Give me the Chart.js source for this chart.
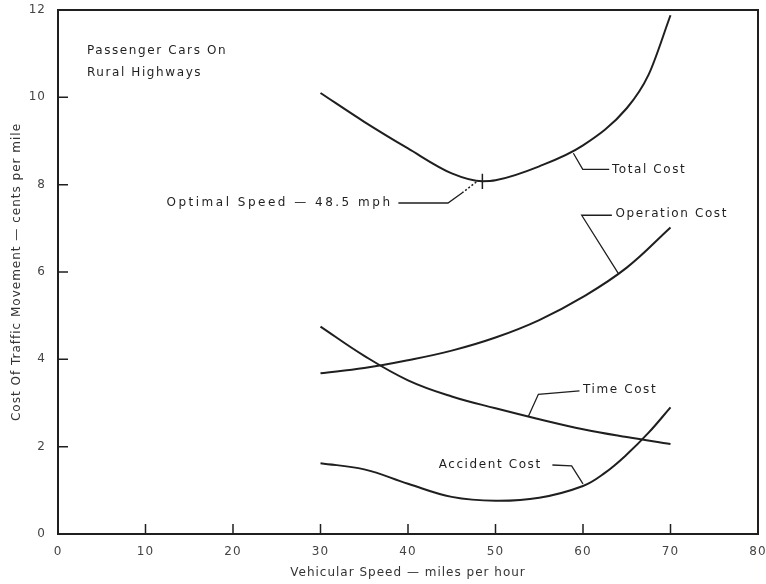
<!DOCTYPE html>
<html lang="en">
<head>
  <meta charset="UTF-8">
  <title>Cost of Traffic Movement</title>
  <script src="https://cdn.jsdelivr.net/npm/chart.js"></script>
  <style>
    html, body { margin: 0; padding: 0; background: #fff; }
    #wrap { width: 766px; height: 584px; }
  </style>
</head>
<body>

<div id="wrap"><canvas id="grafik"></canvas></div>

<script>
  // speeds (mph) and costs (cents per mile)
  const totalSpeed = [30, 35, 40, 45, 48.5, 50, 55, 60, 65, 67.5, 70];
  const totalCost = [10.1, 9.44, 8.83, 8.26, 8.08, 8.1, 8.42, 8.9, 9.75, 10.52, 11.88];

  const operSpeed = [30, 35, 40, 45, 50, 55, 60, 65, 70];
  const operCost = [3.68, 3.8, 3.98, 4.2, 4.5, 4.9, 5.43, 6.1, 7.02];

  const timeSpeed = [30, 35, 40, 45, 50, 55, 60, 65, 70];
  const timeCost = [4.75, 4.08, 3.52, 3.15, 2.88, 2.63, 2.4, 2.22, 2.06];

  const accSpeed = [30, 35, 40, 45, 50, 55, 60, 62.5, 65, 67.5, 70];
  const accCost = [1.62, 1.48, 1.15, 0.85, 0.76, 0.83, 1.1, 1.4, 1.82, 2.32, 2.9];

  const xTicks = [10, 20, 30, 40, 50, 60, 70];
  const yTicks = [2, 4, 6, 8, 10];
  const optimalSpeed = 48.5;

  const ink = '#1f1f1f';
  const fontName = '"DejaVu Sans", sans-serif';

  function punten(xs, ys) {
    return xs.map((v, i) => ({ x: v, y: ys[i] }));
  }

  function lijn(label, xs, ys, monotoon) {
    return {
      label: label,
      data: punten(xs, ys),
      borderColor: ink,
      borderWidth: 2,
      pointRadius: 0,
      tension: 0.4,
      cubicInterpolationMode: monotoon ? 'monotone' : 'default',
      fill: false
    };
  }

  // leader lines + labels, in data units
  const notities = [
    { tekst: 'Passenger Cars On', pos: [3.3, 11.06], lijn: [] },
    { tekst: 'Rural Highways', pos: [3.3, 10.56], lijn: [] },
    { tekst: 'Total Cost', pos: [63.3, 8.35], lijn: [[58.9, 8.72], [59.97, 8.35], [63.0, 8.35]] },
    { tekst: 'Operation Cost', pos: [63.7, 7.32], lijn: [[64.03, 5.97], [59.85, 7.3], [63.3, 7.3]] },
    { tekst: 'Time Cost', pos: [60.0, 3.31], lijn: [[53.75, 2.69], [54.9, 3.2], [59.6, 3.28]] },
    { tekst: 'Accident Cost', pos: [43.5, 1.58], lijn: [[56.5, 1.58], [58.7, 1.56], [60.0, 1.15]] },
    { tekst: 'Optimal Speed — 48.5 mph', pos: [12.4, 7.58], lijn: [[38.9, 7.58], [44.57, 7.58], [46.17, 7.81]], spacing: '2.5px' }
  ];

  const versiering = {
    id: 'versiering',
    beforeDraw(chart) {
      chart.ctx.letterSpacing = '1px';
    },
    afterDatasetsDraw(chart) {
      const ctx = chart.ctx;
      const a = chart.chartArea;
      const sx = chart.scales.x, sy = chart.scales.y;
      const px = v => sx.getPixelForValue(v);
      const py = v => sy.getPixelForValue(v);

      ctx.save();
      ctx.strokeStyle = ink;
      ctx.lineWidth = 2;
      ctx.strokeRect(a.left, a.top, a.right - a.left, a.bottom - a.top);

      // inward tick marks
      ctx.lineWidth = 1.5;
      ctx.beginPath();
      xTicks.forEach(v => { ctx.moveTo(px(v), a.bottom); ctx.lineTo(px(v), a.bottom - 10); });
      yTicks.forEach(v => { ctx.moveTo(a.left, py(v)); ctx.lineTo(a.left + 10, py(v)); });
      ctx.stroke();

      // optimal speed mark on total cost curve
      ctx.lineWidth = 1.5;
      ctx.beginPath();
      ctx.moveTo(px(optimalSpeed), py(8.25));
      ctx.lineTo(px(optimalSpeed), py(7.9));
      ctx.stroke();
      ctx.setLineDash([2, 2]);
      ctx.beginPath();
      ctx.moveTo(px(46.17), py(7.81));
      ctx.lineTo(px(47.8), py(8.06));
      ctx.stroke();
      ctx.setLineDash([]);

      // leaders
      ctx.lineWidth = 1.3;
      notities.forEach(n => {
        if (!n.lijn.length) return;
        ctx.beginPath();
        n.lijn.forEach((p, i) => {
          if (i === 0) ctx.moveTo(px(p[0]), py(p[1]));
          else ctx.lineTo(px(p[0]), py(p[1]));
        });
        ctx.stroke();
      });

      // labels
      ctx.fillStyle = ink;
      ctx.font = '12px ' + fontName;
      ctx.textAlign = 'left';
      ctx.textBaseline = 'middle';
      notities.forEach(n => {
        ctx.letterSpacing = n.spacing || '1.6px';
        ctx.fillText(n.tekst, px(n.pos[0]), py(n.pos[1]));
      });
      ctx.restore();
    }
  };

  new Chart(document.getElementById('grafik'), {
    type: 'line',
    data: {
      datasets: [
        lijn('Total Cost', totalSpeed, totalCost, true),
        lijn('Operation Cost', operSpeed, operCost, false),
        lijn('Time Cost', timeSpeed, timeCost, false),
        lijn('Accident Cost', accSpeed, accCost, false)
      ]
    },
    options: {
      responsive: true,
      maintainAspectRatio: false,
      animation: false,
      layout: { padding: { top: 10, right: 8, left: 0, bottom: 0 } },
      plugins: { legend: { display: false }, tooltip: { enabled: false } },
      scales: {
        x: {
          type: 'linear',
          min: 0, max: 80,
          grid: { display: false, drawTicks: false },
          border: { display: false },
          ticks: { stepSize: 10, padding: 11, color: '#444', font: { family: fontName, size: 12 } },
          title: {
            display: true,
            text: 'Vehicular Speed — miles per hour',
            color: '#333',
            font: { family: fontName, size: 12 },
            padding: { top: 0, bottom: 4 }
          },
          afterFit(s) { s.height = 50; s.paddingLeft = 0; s.paddingRight = 0; }
        },
        y: {
          min: 0, max: 12,
          grid: { display: false, drawTicks: false },
          border: { display: false },
          ticks: { stepSize: 2, padding: 12, color: '#444', font: { family: fontName, size: 12 } },
          title: {
            display: true,
            text: 'Cost Of Traffic Movement — cents per mile',
            color: '#333',
            font: { family: fontName, size: 12 },
            padding: { top: 10, bottom: 0 }
          },
          afterFit(s) { s.width = 58; s.paddingTop = 0; s.paddingBottom = 0; }
        }
      }
    },
    plugins: [versiering]
  });
</script>

</body>
</html>
